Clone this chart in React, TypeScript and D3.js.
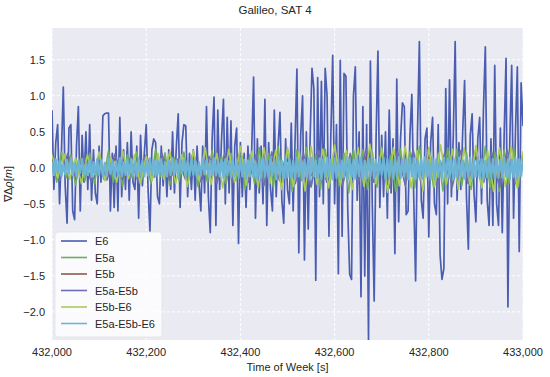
import React from "react";
import * as d3 from "d3";

const title = "Galileo, SAT 4";
const xTicks = [432000, 432200, 432400, 432600, 432800, 433000];
const yTicks = [-2.0, -1.5, -1.0, -0.5, 0.0, 0.5, 1.0, 1.5];
const seriesNames = ["E6", "E5a", "E5b", "E5a-E5b", "E5b-E6", "E5a-E5b-E6"];
const seriesColors = ["#4A5DB0", "#6DAF5F", "#8C5A4A", "#6E6DB5", "#A9CB5A", "#6CB5D6"];

const e6 = [
  0.8, -0.3, 0.35, 0.6, -0.5, 0.2, 1.12, -0.25, -0.77, 0.55,
  0.6, -0.6, -0.72, 0.3, 0.85, -0.6, 0.45, -0.2, 0.5, -0.3,
  0.6, -0.45, 0.25, -0.35, -0.5, 0.3, -0.2, 0.72, 0.75, 0.76,
  0.76, -0.6, 0.2, -0.55, 0.3, -0.6, 0.7, -0.4, 0.25, -0.3,
  0.35, -0.45, 0.5, -0.2, -0.3, 0.3, -0.7, 0.45, -0.25, 0.2,
  0.6, -0.3, -0.88, 0.25, 0.4, 0.35, -0.4, -0.5, 0.3, -0.25,
  0.2, -0.4, 0.25, -0.3, 0.5, -0.35, 0.3, 0.75, -0.55, 0.35,
  0.6, 0.58, -0.4, 0.2, -0.3, 0.25, -0.45, 0.3, -0.2, -0.6,
  0.3, -0.35, 0.85, -0.4, -0.9, 0.4, 0.98, -0.8, 0.8, -0.3,
  0.4, 0.95, -0.5, 0.7, -0.35, 0.65, -0.8, 0.3, 0.55, -1.05,
  0.35, -0.4, 0.2, -0.55, 0.3, -0.3, 0.25, 1.26, -0.7, 0.4,
  -0.35, 0.3, -0.5, 0.95, -0.8, 0.35, -0.3, -0.6, 0.8, -0.4,
  0.3, 0.77, -0.45, -0.77, 0.4, -0.3, -0.5, 0.62, -0.6, 0.35,
  1.37, -1.18, 0.45, 1.0, -1.28, 0.5, -0.85, 0.4, 1.38, 1.1,
  -1.56, 1.25, -0.4, 1.2, -0.5, 1.38, 1.0, -0.95, 0.45, 1.56,
  -0.5, 0.6, -1.47, 1.49, -0.95, 1.31, 1.27, -0.6, -1.48, -1.55,
  1.0, 1.4, -0.45, 0.5, -1.79, 0.85, -1.5, 0.6, -2.39, 1.48,
  -0.5, -1.85, 0.4, 1.62, -0.55, 0.45, -0.4, 0.5, -0.7, 0.8,
  -0.35, 0.4, -1.19, 1.23, -0.75, 0.4, 0.9, 0.85, -0.65, -0.6,
  0.45, 1.02, -0.4, -1.57, 0.5, 1.75, -0.45, -0.7, 0.4, 0.55,
  -0.96, 0.35, 0.7, -0.5, -0.65, 0.6, -1.21, -1.55, -1.4, 1.1,
  -0.5, 1.22, -0.4, 0.45, 1.75, -0.45, 0.35, -0.3, 0.5, 1.21,
  -0.4, -1.13, 0.45, 0.75, -0.35, -0.75, 0.4, 0.7, -0.5, 0.8,
  1.68, -0.45, -0.8, 0.4, -0.8, 1.42, -0.5, -0.8, 0.55, -0.9,
  0.45, 1.52, -1.93, 0.4, 1.42, -0.7, 0.5, 1.4, -1.16, 1.18,
  0.58,
];

const e5a = [
  0.16, -0.2, 0.22, -0.14, 0.18, -0.24, 0.12, -0.18, 0.2, -0.22,
  0.14, -0.16, 0.24, -0.2, 0.1, -0.26, 0.18, -0.14, 0.22, -0.18,
  0.16, -0.22, 0.26, -0.12, 0.2, -0.24, 0.14, -0.18, 0.22, -0.16,
  0.18, -0.26, 0.12, -0.2, 0.24, -0.14, 0.16, -0.22, 0.2, -0.18,
  0.26, -0.3, 0.18, -0.22, 0.28, -0.25, 0.2, -0.27, 0.3, -0.2,
  0.22, -0.33, 0.25, -0.18, 0.28, -0.27, 0.18, -0.3, 0.26, -0.22,
  0.3, -0.25, 0.2, -0.35, 0.26, -0.2, 0.25, -0.3, 0.22, -0.27,
  0.29, -0.22, 0.18, -0.33, 0.26, -0.25, 0.23, -0.28, 0.3, -0.18,
  0.25, -0.27, 0.2, -0.32, 0.28, -0.22, 0.26, -0.25, 0.21, -0.3,
  0.26, -0.2, 0.3, -0.27, 0.22, -0.33, 0.25, -0.22, 0.28, -0.27,
  0.18,
];

const e5b = [
  0.12, -0.1, 0.15, -0.12, 0.08, -0.14, 0.1, -0.09, 0.13, -0.15,
  0.11, -0.12, 0.14, -0.1, 0.12, -0.16, 0.09, -0.11, 0.15, -0.13,
  0.1, -0.14, 0.16, -0.12, 0.13, -0.15, 0.11, -0.1, 0.14, -0.16,
  0.12, -0.13, 0.15, -0.11, 0.1, -0.15, 0.14, -0.12, 0.13, -0.14,
  0.15, -0.1, 0.12, -0.16, 0.14, -0.13, 0.11, -0.15, 0.16, -0.12,
  0.13, -0.14, 0.1, -0.15, 0.15, -0.12, 0.12, -0.13, 0.14, -0.11,
  0.12,
];

const e5aE5b = [
  0.15, -0.18, 0.2, -0.12, 0.16, -0.2, 0.1, -0.17, 0.19, -0.15,
  0.14, -0.2, 0.18, -0.13, 0.2, -0.18, 0.12, -0.16, 0.22, -0.2,
  0.16, -0.22, 0.2, -0.15, 0.24, -0.2, 0.18, -0.24, 0.22, -0.18,
  0.25, -0.22, 0.2, -0.26, 0.24, -0.2, 0.22, -0.25, 0.2, -0.22,
  0.26, -0.2, 0.24, -0.28, 0.22, -0.24, 0.25, -0.2, 0.27, -0.25,
  0.2, -0.26, 0.24, -0.22, 0.26, -0.2, 0.22, -0.27, 0.25, -0.22,
  0.2,
];

const e5bE6 = [
  0.18, -0.14, 0.2, -0.16, 0.14, -0.22, 0.18, -0.12, 0.22, -0.18,
  0.14, -0.2, 0.24, -0.15, 0.18, -0.22, 0.16, -0.18, 0.2, -0.16,
  0.23, -0.22, 0.18, -0.26, 0.24, -0.18, 0.28, -0.23, 0.2, -0.28,
  0.26, -0.2, 0.3, -0.24, 0.23, -0.28, 0.28, -0.22, 0.25, -0.3,
  0.28, -0.26, 0.22, -0.32, 0.3, -0.23, 0.26, -0.28, 0.32, -0.24,
  0.24, -0.3, 0.28, -0.26, 0.33, -0.22, 0.26, -0.34, 0.28, -0.25,
  0.3, -0.28, 0.24, -0.32, 0.28, -0.26, 0.32, -0.23, 0.26, -0.3,
  0.28, -0.24, 0.31, -0.28, 0.23, -0.33, 0.28, -0.26, 0.3, -0.28,
  0.23,
];

const e5aE5bE6 = [
  0.08, -0.1, 0.12, -0.06, 0.1, -0.12, 0.05, -0.09, 0.11, -0.08,
  0.13, -0.1, 0.07, -0.12, 0.1, -0.07, 0.12, -0.11, 0.06, -0.1,
  0.11, -0.13, 0.08, -0.09, 0.12, -0.1, 0.1, -0.12, 0.07, -0.11,
  0.12, -0.08, 0.1, -0.13, 0.09, -0.1, 0.13, -0.12, 0.08, -0.1,
  0.11, -0.09, 0.12, -0.1, 0.09, -0.12, 0.12, -0.11, 0.1, -0.12,
  0.09, -0.11, 0.13, -0.08, 0.1, -0.12, 0.11, -0.09, 0.12, -0.1,
  0.08, -0.12, 0.11, -0.1, 0.13, -0.09, 0.1, -0.13, 0.12, -0.08,
  0.11, -0.11, 0.09, -0.12, 0.12, -0.1, 0.1, -0.13, 0.08, -0.11,
  0.12, -0.09, 0.11, -0.12, 0.1, -0.1, 0.13, -0.11, 0.09, -0.12,
  0.11, -0.14, 0.12, -0.1, 0.09, -0.13, 0.12, -0.11, 0.1, -0.14,
  0.13, -0.12, 0.11, -0.15, 0.1, -0.12, 0.14, -0.13, 0.09, -0.16,
  0.12, -0.14, 0.13, -0.12, 0.1, -0.15, 0.14, -0.11, 0.12, -0.16,
  0.13, -0.12, 0.1, -0.15, 0.14, -0.13, 0.12, -0.14, 0.1, -0.16,
  0.13, -0.12, 0.14, -0.15, 0.11, -0.13, 0.12, -0.16, 0.14, -0.12,
  0.1, -0.14, 0.13, -0.15, 0.12, -0.13, 0.14, -0.12, 0.11, -0.16,
  0.13, -0.14, 0.12, -0.15, 0.1, -0.13, 0.14, -0.16, 0.12, -0.13,
  0.11, -0.15, 0.13, -0.12, 0.14, -0.14, 0.1, -0.15, 0.13, -0.12,
  0.12, -0.14, 0.11, -0.13, 0.12, -0.1, 0.14, -0.16, 0.12, -0.13,
  0.1, -0.15, 0.13, -0.12, 0.15, -0.14, 0.11, -0.13, 0.12, -0.16,
  0.14, -0.12, 0.13, -0.15, 0.1, -0.14, 0.12, -0.13, 0.15, -0.12,
  0.11, -0.16, 0.13, -0.14, 0.12, -0.13, 0.1, -0.15, 0.14, -0.12,
  0.13, -0.14, 0.11, -0.16, 0.12, -0.13, 0.14, -0.12, 0.1, -0.15,
  0.12, -0.13, 0.14, -0.15, 0.11, -0.12, 0.13, -0.14, 0.12, -0.16,
  0.1, -0.13, 0.14, -0.12, 0.12, -0.15, 0.13, -0.14, 0.11, -0.13,
  0.14, -0.12, 0.12, -0.15, 0.1, -0.13, 0.13, -0.14, 0.12, -0.11,
  0.1,
];

const seriesValues = [e6, e5a, e5b, e5aE5b, e5bE6, e5aE5bE6];
const seriesWidths = [1.7, 1.6, 1.6, 1.6, 1.6, 2.2];

const W = 550;
const H = 377;
const M = { left: 52, right: 27, top: 28, bottom: 37 };

export default function App() {
  const x = d3.scaleLinear().domain([432000, 433000]).range([M.left, W - M.right]);
  const y = d3.scaleLinear().domain([-2.39, 1.94]).range([H - M.bottom, M.top]);
  const fmtX = d3.format(",");
  const fmtY = (v: number) => (v < 0 ? "\u2212" : "") + Math.abs(v).toFixed(1);
  const font = "'Liberation Sans', Arial, Helvetica, sans-serif";

  const lines = seriesValues.map((vals) => {
    const n = vals.length;
    const gen = d3
      .line<number>()
      .x((_, i) => x(432000 + (i * 1000) / (n - 1)))
      .y((d) => y(d));
    return gen(vals) || "";
  });

  const plotW = W - M.left - M.right;
  const plotH = H - M.top - M.bottom;

  const legX = 55;
  const legY = 232;
  const rowH = 16.5;

  return (
    <svg width={W} height={H} style={{ position: "absolute", left: 0, top: 0, fontFamily: font }}>
      <rect x={0} y={0} width={W} height={H} fill="#ffffff" />
      <defs>
        <clipPath id="plotclip">
          <rect x={M.left} y={M.top} width={plotW} height={plotH} />
        </clipPath>
      </defs>
      <rect x={M.left} y={M.top} width={plotW} height={plotH} fill="#EAEAF2" />
      {xTicks.map((t) => (
        <line key={"gx" + t} x1={x(t)} x2={x(t)} y1={M.top} y2={H - M.bottom} stroke="#fff" strokeWidth={1} strokeDasharray="3,2" />
      ))}
      {yTicks.map((t) => (
        <line key={"gy" + t} x1={M.left} x2={W - M.right} y1={y(t)} y2={y(t)} stroke="#fff" strokeWidth={1} strokeDasharray="3,2" />
      ))}
      <g clipPath="url(#plotclip)">
        {lines.map((d, i) => (
          <path key={i} d={d} fill="none" stroke={seriesColors[i]} strokeWidth={seriesWidths[i]} strokeLinejoin="round" />
        ))}
      </g>
      {xTicks.map((t) => (
        <text key={"tx" + t} x={x(t)} y={356} textAnchor="middle" fontSize={11} fill="#262626">
          {fmtX(t)}
        </text>
      ))}
      {yTicks.map((t) => (
        <text key={"ty" + t} x={45} y={y(t) + 4} textAnchor="end" fontSize={11} fill="#262626">
          {fmtY(t)}
        </text>
      ))}
      <text x={W / 2} y={14} textAnchor="middle" fontSize={11.5} fill="#262626">
        {title}
      </text>
      <text x={(M.left + W - M.right) / 2} y={371} textAnchor="middle" fontSize={11} fill="#262626">
        Time of Week [s]
      </text>
      <text transform={`translate(12, ${M.top + plotH / 2}) rotate(-90)`} textAnchor="middle" fontSize={11} fill="#262626">
        ∇Δ<tspan fontStyle="italic">ρ</tspan>[<tspan fontStyle="italic">m</tspan>]
      </text>
      <rect x={legX} y={legY} width={107} height={105} rx={3} fill="#ffffff" fillOpacity={0.8} stroke="#dddddd" strokeWidth={0.6} />
      {seriesNames.map((name, i) => (
        <g key={name}>
          <line x1={legX + 6} x2={legX + 32} y1={legY + 9 + i * rowH} y2={legY + 9 + i * rowH} stroke={seriesColors[i]} strokeWidth={1.6} />
          <text x={legX + 40} y={legY + 13 + i * rowH} fontSize={11} fill="#262626">
            {name}
          </text>
        </g>
      ))}
    </svg>
  );
}
